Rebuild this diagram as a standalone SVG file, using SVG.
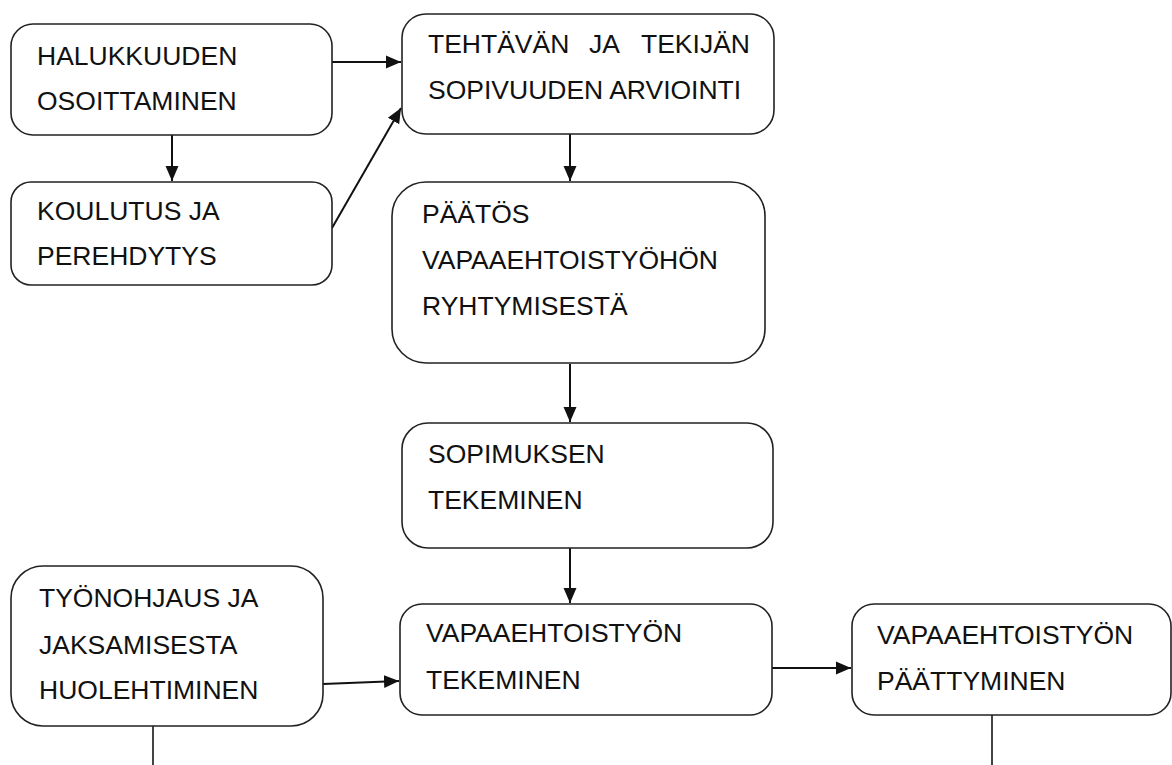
<svg xmlns="http://www.w3.org/2000/svg" width="1172" height="765" viewBox="0 0 1172 765">
<style>
.box{fill:#fff;stroke:#222;stroke-width:1.6}
.t{font-family:"Liberation Sans",Arial,sans-serif;font-size:26.5px;fill:#111}
.c{fill:none;stroke:#111;stroke-width:2}
.g{fill:none;stroke:#444;stroke-width:2}
</style>
<defs>
<marker id="ah" markerUnits="userSpaceOnUse" markerWidth="16" markerHeight="14" refX="15" refY="7" orient="auto">
<path d="M0,0.5 L15,7 L0,13.5 Z" fill="#111"/>
</marker>
</defs>
<rect width="1172" height="765" fill="#fff"/>
<g id="connectors">
<path class="c" d="M332,62 H401" marker-end="url(#ah)"/>
<path class="c" d="M172,135 V181" marker-end="url(#ah)"/>
<path class="c" d="M332,228 L401,108" marker-end="url(#ah)"/>
<path class="c" d="M570,134 V181" marker-end="url(#ah)"/>
<path class="c" d="M570,364 V422" marker-end="url(#ah)"/>
<path class="c" d="M570,548 V603" marker-end="url(#ah)"/>
<path class="c" d="M323,684 L399,681" marker-end="url(#ah)"/>
<path class="c" d="M772,668 H851" marker-end="url(#ah)"/>
<path class="g" d="M153,726 V765"/>
<path class="g" d="M992,715 V765"/>
</g>
<g id="n1"><rect class="box" x="11" y="24" width="321" height="111" rx="22"/>
<text class="t" x="37" y="65">HALUKKUUDEN</text><text class="t" x="37" y="110">OSOITTAMINEN</text></g>
<g id="n2"><rect class="box" x="11" y="182" width="321" height="103" rx="20"/>
<text class="t" x="37" y="220">KOULUTUS JA</text><text class="t" x="37" y="265">PEREHDYTYS</text></g>
<g id="n3"><rect class="box" x="402" y="14" width="372" height="120" rx="24"/>
<text class="t" y="53"><tspan x="428">TEHTÄVÄN</tspan><tspan x="589">JA</tspan><tspan x="641">TEKIJÄN</tspan></text>
<text class="t" x="428" y="99">SOPIVUUDEN ARVIOINTI</text></g>
<g id="n4"><rect class="box" x="392" y="182" width="373" height="181" rx="34"/>
<text class="t" x="422" y="223">PÄÄTÖS</text><text class="t" x="422" y="269">VAPAAEHTOISTYÖHÖN</text><text class="t" x="422" y="315">RYHTYMISESTÄ</text></g>
<g id="n5"><rect class="box" x="402" y="423" width="371" height="125" rx="26"/>
<text class="t" x="428" y="463">SOPIMUKSEN</text><text class="t" x="428" y="509">TEKEMINEN</text></g>
<g id="n6"><rect class="box" x="11" y="566" width="312" height="160" rx="32"/>
<text class="t" x="39" y="607">TYÖNOHJAUS JA</text><text class="t" x="39" y="654">JAKSAMISESTA</text><text class="t" x="39" y="699">HUOLEHTIMINEN</text></g>
<g id="n7"><rect class="box" x="400" y="604" width="372" height="111" rx="22"/>
<text class="t" x="426" y="642">VAPAAEHTOISTYÖN</text><text class="t" x="426" y="689">TEKEMINEN</text></g>
<g id="n8"><rect class="box" x="852" y="604" width="319" height="111" rx="22"/>
<text class="t" x="877" y="644">VAPAAEHTOISTYÖN</text><text class="t" x="877" y="690">PÄÄTTYMINEN</text></g>
</svg>
